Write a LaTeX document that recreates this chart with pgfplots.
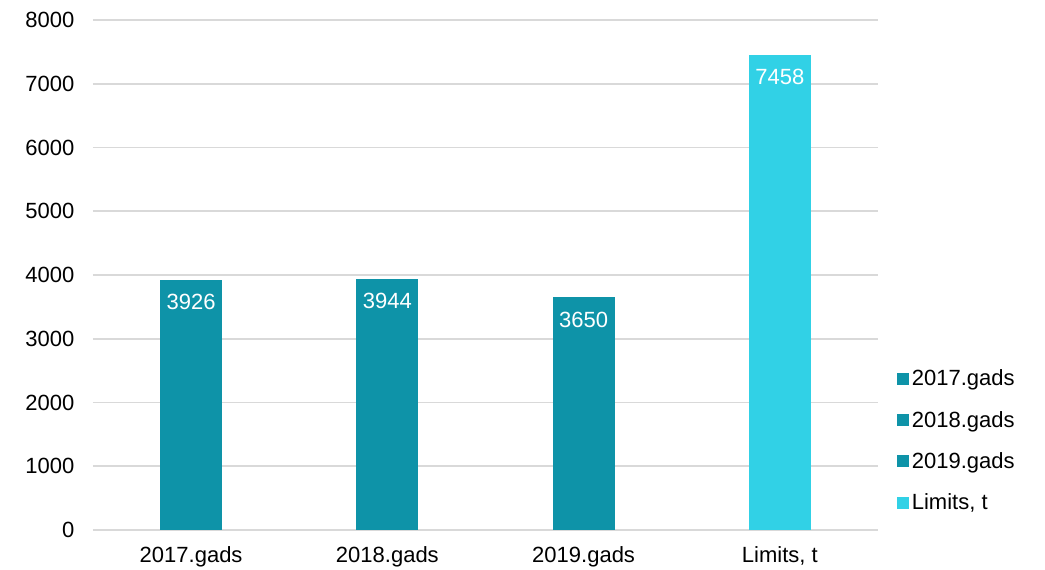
\documentclass[border=0pt]{standalone}
\usepackage{pgfplots}
\pgfplotsset{compat=1.18}
\usepackage{fontspec}
\setmainfont{Liberation Sans}
\definecolor{barteal}{HTML}{0E93A8}
\definecolor{barcyan}{HTML}{31D1E6}
\definecolor{gridgray}{HTML}{D9D9D9}
\begin{document}
\begin{tikzpicture}[x=0.75pt,y=0.75pt]
\useasboundingbox (-95,-40) rectangle (950,530);
\begin{axis}[
    at={(-1.5pt,0)}, anchor=south west,
    scale only axis,
    width=588.75pt,
    height=382.5pt,
    xmin=-0.5, xmax=3.5,
    ymin=0, ymax=8000,
    ytick={0,1000,...,8000},
    xtick={0,1,2,3},
    xticklabels={2017.gads,2018.gads,2019.gads,{Limits, t}},
    major tick length=0pt,
    axis line style={draw=none},
    ymajorgrids,
    grid style={gridgray, line width=1.2pt},
    font=\fontsize{16.5}{19}\selectfont,
    /pgf/number format/assume math mode=true,
    /pgf/number format/1000 sep={},
    yticklabel style={anchor=east, xshift=-10.5pt},
    xticklabel style={anchor=north, yshift=-9pt},
    ybar, bar width=46.5pt, bar shift=0pt,
    nodes near coords,
    every node near coord/.append style={anchor=north, yshift=-7.5pt, text=white, font=\fontsize{16.5}{19}\selectfont},
    legend style={draw=none, fill=none, at={(1.019,0.325)}, anchor=north west,
        row sep=13.5pt, font=\fontsize{16.5}{19}\selectfont},
    legend cell align=left,
    legend image code/.code={\fill[#1] (0pt,-4.5pt) rectangle (9pt,4.5pt);},
]
\addplot[fill=barteal, draw=none] coordinates {(0,3926)};
\addplot[fill=barteal, draw=none] coordinates {(1,3944)};
\addplot[fill=barteal, draw=none] coordinates {(2,3650)};
\addplot[fill=barcyan, draw=none] coordinates {(3,7458)};
\legend{2017.gads,2018.gads,2019.gads,{Limits, t}}
\end{axis}
\end{tikzpicture}
\end{document}
